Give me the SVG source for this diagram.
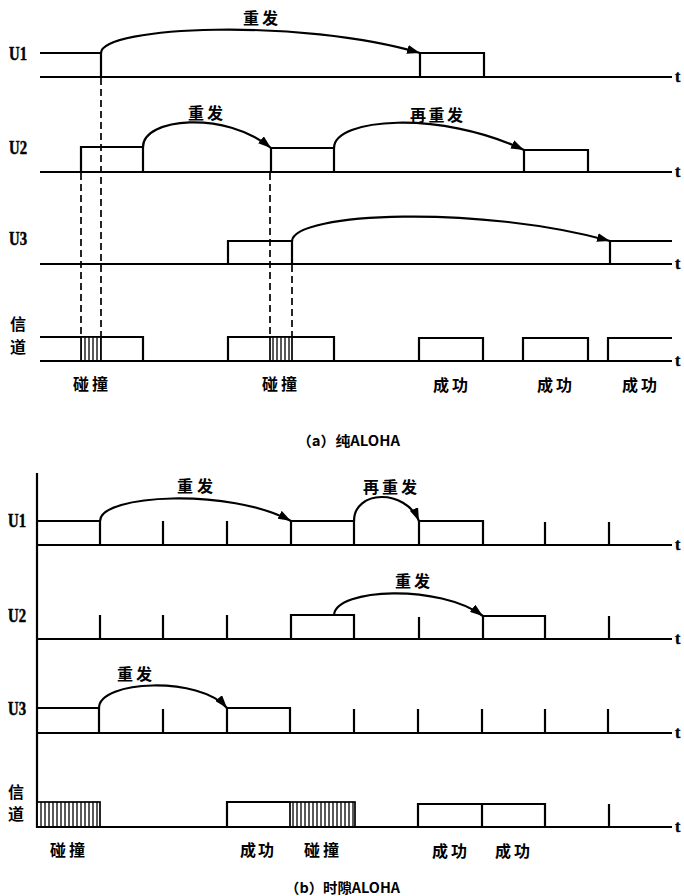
<svg xmlns="http://www.w3.org/2000/svg" width="684" height="896" viewBox="0 0 684 896">
<defs>
<style>
.ln{stroke:#000;stroke-width:2.2;fill:none;stroke-linejoin:miter}
.ds{stroke:#000;stroke-width:1.7;fill:none;stroke-dasharray:7 4}
.arc{stroke:#000;stroke-width:2.2;fill:none}
.cj{font-family:"Noto Sans CJK SC",sans-serif;font-weight:700;font-size:16px;fill:#000}
.lb{font-family:"Liberation Serif","Noto Sans CJK SC",serif;font-weight:700;font-size:18px;fill:#000;stroke:#000;stroke-width:0.5}
.tt{font-family:"Liberation Serif",serif;font-weight:700;font-size:16px;fill:#000;stroke:#000;stroke-width:0.4}
.cap{font-family:"Noto Sans CJK SC",sans-serif;font-weight:700;font-size:14px;fill:#000}
.hat{fill:url(#hatch);stroke:#000;stroke-width:1.7}
</style>
<marker id="arr" viewBox="0 0 13 9" refX="13" refY="4.5" markerWidth="13" markerHeight="9" markerUnits="userSpaceOnUse" orient="auto">
<path d="M0,0 L13,4.5 L0,9 z" fill="#000"/>
</marker>
<pattern id="hatch" x="0" y="0" width="4" height="10" patternUnits="userSpaceOnUse">
<rect width="4" height="10" fill="#fff"/>
<line x1="1" y1="0" x2="1" y2="10" stroke="#000" stroke-width="1.3"/>
</pattern>
</defs>
<rect width="684" height="896" fill="#fff"/>

<!-- (a) pure ALOHA -->
<g id="a-u1">
<text class="lb" x="9" y="60" textLength="18" lengthAdjust="spacingAndGlyphs">U1</text>
<polyline class="ln" points="40,53 101,53 101,77"/>
<line class="ln" x1="40" y1="77" x2="672" y2="77"/>
<polyline class="ln" points="420,77 420,53 484,53 484,77"/>
<text class="tt" x="675" y="82">t</text>
</g>
<g id="a-u2">
<text class="lb" x="9" y="154" textLength="18" lengthAdjust="spacingAndGlyphs">U2</text>
<polyline class="ln" points="81,172 81,147 143,147 143,172"/>
<polyline class="ln" points="271,172 271,148 334,148 334,172"/>
<polyline class="ln" points="524,172 524,150 588,150 588,172"/>
<line class="ln" x1="40" y1="172" x2="672" y2="172"/>
<text class="tt" x="675" y="177">t</text>
</g>
<g id="a-u3">
<text class="lb" x="9" y="245" textLength="18" lengthAdjust="spacingAndGlyphs">U3</text>
<polyline class="ln" points="228,264 228,241 292,241 292,264"/>
<polyline class="ln" points="610,264 610,241 672,241"/>
<line class="ln" x1="40" y1="264" x2="672" y2="264"/>
<text class="tt" x="675" y="269">t</text>
</g>
<g id="a-ch">
<text class="cj" x="10" y="330" font-size="18">信</text>
<text class="cj" x="10" y="353" font-size="18">道</text>
<polyline class="ln" points="40,337 143,337 143,361"/>
<rect class="hat" x="81" y="337" width="20" height="24"/>
<polyline class="ln" points="228,361 228,337 334,337 334,361"/>
<rect class="hat" x="270" y="337" width="22" height="24"/>
<polyline class="ln" points="419,361 419,338 483,338 483,361"/>
<polyline class="ln" points="523,361 523,338 588,338 588,361"/>
<polyline class="ln" points="608,361 608,338 672,338"/>
<line class="ln" x1="40" y1="361" x2="672" y2="361"/>
<text class="tt" x="675" y="366">t</text>
<text class="cj" x="73" y="390" font-size="17" textLength="35">碰撞</text>
<text class="cj" x="262" y="390" font-size="17" textLength="35">碰撞</text>
<text class="cj" x="433" y="391" font-size="17" textLength="35">成功</text>
<text class="cj" x="537" y="391" font-size="17" textLength="35">成功</text>
<text class="cj" x="622" y="391" font-size="17" textLength="35">成功</text>
</g>
<g id="a-caption">
<text class="cap" x="297" y="446" textLength="103" lengthAdjust="spacingAndGlyphs">（a）纯ALOHA</text>
</g>

<!-- (b) slotted ALOHA -->
<g id="b-axis">
<line class="ln" x1="37" y1="473" x2="37" y2="828"/>
</g>
<g id="b-u1">
<text class="lb" x="8" y="527" textLength="18" lengthAdjust="spacingAndGlyphs">U1</text>
<polyline class="ln" points="37,521 100,521 100,545"/>
<line class="ln" x1="163" y1="521" x2="163" y2="545"/>
<line class="ln" x1="227" y1="521" x2="227" y2="545"/>
<polyline class="ln" points="291,545 291,521 354,521 354,545"/>
<polyline class="ln" points="419,545 419,521 483,521 483,545"/>
<line class="ln" x1="545" y1="522" x2="545" y2="545"/>
<line class="ln" x1="609" y1="522" x2="609" y2="545"/>
<line class="ln" x1="37" y1="545" x2="672" y2="545"/>
<text class="tt" x="675" y="550">t</text>
</g>
<g id="b-u2">
<text class="lb" x="8" y="622" textLength="18" lengthAdjust="spacingAndGlyphs">U2</text>
<line class="ln" x1="100" y1="615" x2="100" y2="639"/>
<line class="ln" x1="163" y1="615" x2="163" y2="639"/>
<line class="ln" x1="227" y1="615" x2="227" y2="639"/>
<polyline class="ln" points="291,639 291,615 354,615 354,639"/>
<line class="ln" x1="419" y1="617" x2="419" y2="639"/>
<polyline class="ln" points="483,639 483,616 545,616 545,639"/>
<line class="ln" x1="609" y1="616" x2="609" y2="639"/>
<line class="ln" x1="37" y1="639" x2="672" y2="639"/>
<text class="tt" x="675" y="644">t</text>
</g>
<g id="b-u3">
<text class="lb" x="8" y="715" textLength="18" lengthAdjust="spacingAndGlyphs">U3</text>
<polyline class="ln" points="37,708 99,708 99,733"/>
<line class="ln" x1="163" y1="709" x2="163" y2="733"/>
<polyline class="ln" points="227,733 227,708 290,708 290,733"/>
<line class="ln" x1="354" y1="709" x2="354" y2="733"/>
<line class="ln" x1="418" y1="709" x2="418" y2="733"/>
<line class="ln" x1="482" y1="709" x2="482" y2="733"/>
<line class="ln" x1="545" y1="709" x2="545" y2="733"/>
<line class="ln" x1="608" y1="709" x2="608" y2="733"/>
<line class="ln" x1="37" y1="733" x2="672" y2="733"/>
<text class="tt" x="675" y="738">t</text>
</g>
<g id="b-ch">
<text class="cj" x="8" y="798" font-size="17">信</text>
<text class="cj" x="8" y="820" font-size="17">道</text>
<rect class="hat" x="37" y="802" width="63" height="25"/>
<polyline class="ln" points="227,827 227,802 290,802"/>
<rect class="hat" x="290" y="802" width="65" height="25"/>
<polyline class="ln" points="418,827 418,804 545,804 545,827"/>
<line class="ln" x1="482" y1="804" x2="482" y2="827"/>
<line class="ln" x1="609" y1="804" x2="609" y2="827"/>
<line class="ln" x1="37" y1="827" x2="672" y2="827"/>
<text class="tt" x="675" y="832">t</text>
<text class="cj" x="50" y="856" font-size="17" textLength="35">碰撞</text>
<text class="cj" x="240" y="856" font-size="17" textLength="34">成功</text>
<text class="cj" x="304" y="856" font-size="17" textLength="35">碰撞</text>
<text class="cj" x="432" y="857" font-size="17" textLength="35">成功</text>
<text class="cj" x="495" y="857" font-size="17" textLength="35">成功</text>
</g>
<g id="b-caption">
<text class="cap" x="285" y="893" textLength="115" lengthAdjust="spacingAndGlyphs">（b）时隙ALOHA</text>
</g>

<!-- connectors -->
<g id="connectors">
<path class="arc" d="M101,53 C102,26 300,18 420,53" marker-end="url(#arr)"/>
<text class="cj" x="243" y="24" textLength="35">重发</text>
<path class="arc" d="M143,147 C143,118 225,110 271,148" marker-end="url(#arr)"/>
<text class="cj" x="188" y="119" textLength="35">重发</text>
<path class="arc" d="M334,148 C334,118 440,110 524,150" marker-end="url(#arr)"/>
<text class="cj" x="410" y="121" textLength="53">再重发</text>
<path class="arc" d="M292,241 C294,212 480,205 610,241" marker-end="url(#arr)"/>
<line class="ds" x1="81" y1="173" x2="81" y2="337"/>
<line class="ds" x1="101" y1="78" x2="101" y2="337"/>
<line class="ds" x1="270" y1="173" x2="270" y2="337"/>
<line class="ds" x1="292" y1="265" x2="292" y2="337"/>

<path class="arc" d="M100,521 C100,494 230,488 291,521" marker-end="url(#arr)"/>
<text class="cj" x="177" y="492" textLength="36">重发</text>
<path class="arc" d="M354,521 C354,490 405,488 419,521" marker-end="url(#arr)"/>
<text class="cj" x="363" y="493" textLength="54">再重发</text>
<path class="arc" d="M334,615 C336,588 440,584 483,616" marker-end="url(#arr)"/>
<text class="cj" x="395" y="587" textLength="35">重发</text>
<path class="arc" d="M99,708 C99,680 200,676 227,708" marker-end="url(#arr)"/>
<text class="cj" x="117" y="680" textLength="35">重发</text>
</g>
</svg>
